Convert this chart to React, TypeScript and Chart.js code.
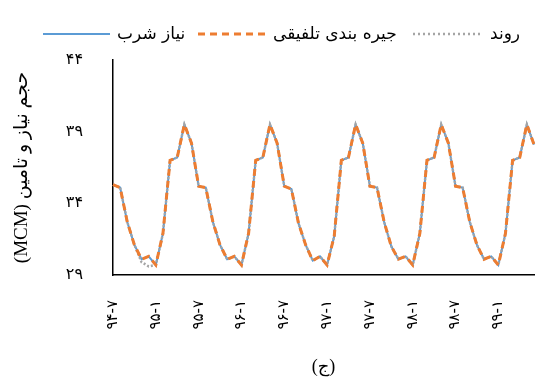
import React, { useEffect, useRef } from 'react';
import { Chart, registerables } from 'chart.js';

Chart.register(...registerables);

const FONT = "'Liberation Serif', 'DejaVu Sans', serif";
const FA_FONT = "'DejaVu Sans', sans-serif";

const categories = [
  '۹۴-۷', '۹۴-۸', '۹۴-۹', '۹۴-۱۰', '۹۴-۱۱', '۹۴-۱۲',
  '۹۵-۱', '۹۵-۲', '۹۵-۳', '۹۵-۴', '۹۵-۵', '۹۵-۶',
  '۹۵-۷', '۹۵-۸', '۹۵-۹', '۹۵-۱۰', '۹۵-۱۱', '۹۵-۱۲',
  '۹۶-۱', '۹۶-۲', '۹۶-۳', '۹۶-۴', '۹۶-۵', '۹۶-۶',
  '۹۶-۷', '۹۶-۸', '۹۶-۹', '۹۶-۱۰', '۹۶-۱۱', '۹۶-۱۲',
  '۹۷-۱', '۹۷-۲', '۹۷-۳', '۹۷-۴', '۹۷-۵', '۹۷-۶',
  '۹۷-۷', '۹۷-۸', '۹۷-۹', '۹۷-۱۰', '۹۷-۱۱', '۹۷-۱۲',
  '۹۸-۱', '۹۸-۲', '۹۸-۳', '۹۸-۴', '۹۸-۵', '۹۸-۶',
  '۹۸-۷', '۹۸-۸', '۹۸-۹', '۹۸-۱۰', '۹۸-۱۱', '۹۸-۱۲',
  '۹۹-۱', '۹۹-۲', '۹۹-۳', '۹۹-۴', '۹۹-۵', '۹۹-۶',
];

const shownTicks = ['۹۴-۷', '۹۵-۱', '۹۵-۷', '۹۶-۱', '۹۶-۷', '۹۷-۱', '۹۷-۷', '۹۸-۱', '۹۸-۷', '۹۹-۱'];

const yTickLabels = ['۲۹', '۳۴', '۳۹', '۴۴'];

// نیاز شرب
const demand = [
  35.3, 35.1, 32.7, 31.1, 30.1, 30.3, 29.7, 31.9, 37.0, 37.2, 39.5, 38.2,
  35.2, 35.1, 32.7, 31.1, 30.1, 30.3, 29.7, 31.9, 37.0, 37.2, 39.5, 38.2,
  35.2, 35.0, 32.6, 31.1, 30.0, 30.3, 29.7, 31.7, 37.0, 37.2, 39.5, 38.2,
  35.2, 35.1, 32.7, 31.0, 30.1, 30.3, 29.7, 31.9, 37.0, 37.2, 39.5, 38.2,
  35.2, 35.1, 32.7, 31.1, 30.1, 30.3, 29.7, 31.9, 37.0, 37.2, 39.5, 38.1,
];

// جیره بندی تلفیقی
const rationing = [
  35.3, 35.1, 32.7, 31.1, 30.1, 30.3, 29.7, 31.9, 37.0, 37.2, 39.5, 38.2,
  35.2, 35.1, 32.7, 31.1, 30.1, 30.3, 29.7, 31.9, 37.0, 37.2, 39.5, 38.2,
  35.2, 35.0, 32.6, 31.1, 30.0, 30.3, 29.7, 31.7, 37.0, 37.2, 39.5, 38.2,
  35.2, 35.1, 32.7, 31.0, 30.1, 30.3, 29.7, 31.9, 37.0, 37.2, 39.5, 38.2,
  35.2, 35.1, 32.7, 31.1, 30.1, 30.3, 29.7, 31.9, 37.0, 37.2, 39.5, 38.1,
];

// روند
const trend = [
  35.3, 35.1, 32.7, 31.1, 29.9, 29.6, 29.7, 31.9, 37.0, 37.2, 39.5, 38.2,
  35.2, 35.1, 32.7, 31.1, 30.1, 30.3, 29.7, 31.9, 37.0, 37.2, 39.5, 38.2,
  35.2, 35.0, 32.6, 31.1, 30.0, 30.3, 29.7, 31.7, 37.0, 37.2, 39.5, 38.2,
  35.2, 35.1, 32.7, 31.0, 30.1, 30.3, 29.7, 31.9, 37.0, 37.2, 39.5, 38.2,
  35.2, 35.1, 32.7, 31.1, 30.1, 30.3, 29.7, 31.9, 37.0, 37.2, 39.5, 38.1,
];

const BLUE = '#5B9BD5';
const ORANGE = '#ED7D31';
const GRAY = '#A5A5A5';

export default function App() {
  const ref = useRef<HTMLCanvasElement>(null);

  useEffect(() => {
    if (!ref.current) return;
    const chart = new Chart(ref.current, {
      type: 'line',
      data: {
        labels: categories,
        datasets: [
          {
            label: 'نیاز شرب',
            data: demand,
            borderColor: BLUE,
            borderWidth: 2,
            pointRadius: 0,
            tension: 0,
            fill: false,
            order: 2,
          },
          {
            label: 'جیره بندی تلفیقی',
            data: rationing,
            borderColor: ORANGE,
            borderWidth: 3,
            borderDash: [7, 5],
            pointRadius: 0,
            tension: 0,
            fill: false,
            order: 0,
          },
          {
            label: 'روند',
            data: trend,
            borderColor: GRAY,
            borderWidth: 2.5,
            borderDash: [2, 2],
            pointRadius: 0,
            tension: 0,
            fill: false,
            order: 1,
          },
        ],
      },
      options: {
        animation: false,
        responsive: false,
        devicePixelRatio: 1,
        layout: { padding: { top: 60, right: 3, left: 0, bottom: 0 } },
        plugins: {
          legend: { display: false },
          tooltip: { enabled: false },
        },
        scales: {
          x: {
            type: 'category',
            offset: false,
            grid: { display: false, drawTicks: false },
            border: { display: true, color: '#000', width: 1.5 },
            ticks: {
              autoSkip: false,
              maxRotation: 90,
              minRotation: 90,
              padding: 25,
              color: '#000',
              font: { family: FA_FONT, size: 15 },
              callback: (_v: any, i: number) =>
                shownTicks.includes(categories[i]) ? categories[i] : '',
            },
            title: {
              display: true,
              text: '(ج)',
              color: '#000',
              font: { family: FONT, size: 18 },
              padding: { top: 0, bottom: 5 },
            },
            afterFit: (s: any) => {
              s.height = 108;
              s.paddingLeft = 0;
              s.paddingRight = 0;
            },
          },
          y: {
            min: 29,
            max: 44,
            grid: { display: false, drawTicks: false },
            border: { display: true, color: '#000', width: 1.5 },
            ticks: {
              stepSize: 5,
              padding: 30,
              color: '#000',
              font: { family: FA_FONT, size: 16 },
              callback: (_v: any, i: number) => yTickLabels[i],
            },
            title: {
              display: true,
              text: '(MCM) حجم نیاز و تامین',
              color: '#000',
              font: { family: FONT, size: 19 },
              padding: { top: 11, bottom: 0 },
            },
            afterFit: (s: any) => {
              s.width = 113;
              s.paddingTop = 0;
              s.paddingBottom = 0;
            },
          },
        },
      },
    });
    return () => chart.destroy();
  }, []);

  const textStyle: React.CSSProperties = {
    position: 'absolute',
    top: 22,
    fontFamily: FA_FONT,
    fontSize: 17,
    lineHeight: '22px',
    color: '#000',
    whiteSpace: 'nowrap',
    direction: 'rtl',
  };

  return (
    <div style={{ position: 'absolute', left: 0, top: 0, width: 537, height: 383, overflow: 'hidden', background: '#fff' }}>
      <canvas ref={ref} width={537} height={383} style={{ position: 'absolute', left: 0, top: 0 }} />
      <svg width={537} height={60} style={{ position: 'absolute', left: 0, top: 0 }}>
        <line x1={43} y1={34} x2={110} y2={34} stroke={BLUE} strokeWidth={2} />
        <line x1={198} y1={34} x2={267} y2={34} stroke={ORANGE} strokeWidth={3} strokeDasharray="7 5" />
        <line x1={413} y1={34} x2={483} y2={34} stroke={GRAY} strokeWidth={2.5} strokeDasharray="2 3" />
      </svg>
      <span style={{ ...textStyle, left: 117 }}>نیاز شرب</span>
      <span style={{ ...textStyle, left: 273 }}>جیره بندی تلفیقی</span>
      <span style={{ ...textStyle, left: 490 }}>روند</span>
    </div>
  );
}
